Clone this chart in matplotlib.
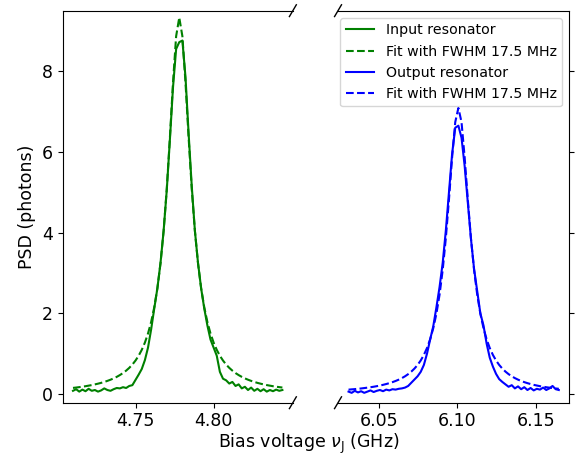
import numpy as np
import matplotlib
matplotlib.use("Agg")
import matplotlib.pyplot as plt

# ---- data ----
# left panel: input resonator, grid 4.710 .. 4.844 GHz (2 MHz steps)
x_in_start, x_in_stop = 4.710, 4.844
psd_in = [0.08, 0.12, 0.06, 0.11, 0.07, 0.13, 0.08, 0.10, 0.06, 0.09,
          0.14, 0.10, 0.08, 0.12, 0.15, 0.14, 0.17, 0.15, 0.20, 0.22,
          0.35, 0.48, 0.62, 0.84, 1.15, 1.60, 2.12, 2.62, 3.25, 4.05,
          5.05, 6.30, 7.60, 8.55, 8.72, 8.76, 7.85, 6.45, 5.15, 4.05,
          3.25, 2.62, 2.12, 1.70, 1.35, 1.15, 0.95, 0.55, 0.38, 0.34,
          0.26, 0.30, 0.20, 0.24, 0.14, 0.18, 0.10, 0.16, 0.08, 0.13,
          0.07, 0.12, 0.06, 0.10, 0.07, 0.11, 0.08, 0.10]
fit_in = [0.152, 0.161, 0.171, 0.182, 0.194, 0.208, 0.222, 0.239, 0.257, 0.277,
          0.300, 0.326, 0.355, 0.388, 0.426, 0.470, 0.520, 0.580, 0.649, 0.731,
          0.830, 0.949, 1.095, 1.274, 1.500, 1.784, 2.150, 2.621, 3.240, 4.046,
          5.081, 6.347, 7.717, 8.867, 9.330, 8.867, 7.717, 6.347, 5.081, 4.046,
          3.240, 2.621, 2.150, 1.784, 1.500, 1.274, 1.095, 0.949, 0.830, 0.731,
          0.649, 0.580, 0.520, 0.470, 0.426, 0.388, 0.355, 0.326, 0.300, 0.277,
          0.257, 0.239, 0.222, 0.208, 0.194, 0.182, 0.171, 0.161]

# right panel: output resonator, grid 6.0306 .. 6.1646 GHz (2 MHz steps)
x_out_start, x_out_stop = 6.0306, 6.1646
psd_out = [0.06, 0.03, 0.08, 0.04, 0.07, 0.03, 0.06, 0.09, 0.05, 0.08,
           0.10, 0.07, 0.11, 0.09, 0.12, 0.11, 0.13, 0.14, 0.16, 0.20,
           0.28, 0.36, 0.44, 0.55, 0.72, 1.00, 1.35, 1.68, 2.15, 2.65,
           3.25, 4.05, 5.00, 5.95, 6.60, 6.65, 6.35, 5.65, 4.75, 3.85,
           3.10, 2.55, 2.00, 1.70, 1.25, 0.90, 0.68, 0.50, 0.37, 0.30,
           0.24, 0.18, 0.22, 0.14, 0.19, 0.12, 0.17, 0.10, 0.15, 0.09,
           0.13, 0.11, 0.16, 0.10, 0.14, 0.20, 0.12, 0.10]
fit_out = [0.109, 0.116, 0.122, 0.130, 0.138, 0.148, 0.158, 0.169, 0.181, 0.195,
           0.211, 0.228, 0.248, 0.270, 0.295, 0.324, 0.357, 0.395, 0.440, 0.493,
           0.556, 0.631, 0.721, 0.832, 0.969, 1.140, 1.356, 1.634, 1.992, 2.462,
           3.075, 3.862, 4.823, 5.864, 6.738, 7.090, 6.738, 5.864, 4.823, 3.862,
           3.075, 2.462, 1.992, 1.634, 1.356, 1.140, 0.969, 0.832, 0.721, 0.631,
           0.556, 0.493, 0.440, 0.395, 0.357, 0.324, 0.295, 0.270, 0.248, 0.228,
           0.211, 0.195, 0.181, 0.169, 0.158, 0.148, 0.138, 0.130]

labels = ["Input resonator", "Fit with FWHM 17.5 MHz",
          "Output resonator", "Fit with FWHM 17.5 MHz"]
yticks = [0, 2, 4, 6, 8]
xticks_in = [4.75, 4.80]
xticks_out = [6.05, 6.10, 6.15]

x_in = np.linspace(x_in_start, x_in_stop, len(psd_in))
x_out = np.linspace(x_out_start, x_out_stop, len(psd_out))

FS = 12.5
fig = plt.figure(figsize=(5.79, 4.58), dpi=100)
ax1 = fig.add_axes([0.108, 0.1207, 0.3978, 0.856])
ax2 = fig.add_axes([0.5838, 0.1207, 0.3995, 0.856], sharey=ax1)

l1, = ax1.plot(x_in, psd_in, color="green", lw=1.5, label=labels[0])
l2, = ax1.plot(x_in, fit_in, color="green", lw=1.5, ls="--", label=labels[1])
l3, = ax2.plot(x_out, psd_out, color="blue", lw=1.5, label=labels[2])
l4, = ax2.plot(x_out, fit_out, color="blue", lw=1.5, ls="--", label=labels[3])

ax1.set_ylim(-0.215, 9.5)
ax1.set_yticks(yticks)
ax1.set_xticks(xticks_in)
ax2.set_xticks(xticks_out)

ax1.spines["right"].set_visible(False)
ax2.spines["left"].set_visible(False)
ax1.yaxis.tick_left()
ax2.yaxis.tick_right()
ax2.tick_params(labelright=False, labelleft=False)
for ax in (ax1, ax2):
    ax.tick_params(labelsize=FS)

# break marks
d = 0.015
kw = dict(transform=ax1.transAxes, color="k", clip_on=False, lw=1)
ax1.plot((1 - d, 1 + d), (-d * 1.0, d * 1.0), **kw)
ax1.plot((1 - d, 1 + d), (1 - d, 1 + d), **kw)
kw.update(transform=ax2.transAxes)
ax2.plot((-d, d), (-d, d), **kw)
ax2.plot((-d, d), (1 - d, 1 + d), **kw)

ax1.set_ylabel("PSD (photons)", fontsize=FS)
fig.text(0.534, 0.022, r"Bias voltage $\nu_\mathrm{J}$ (GHz)", ha="center",
         va="baseline", fontsize=FS)

ax2.legend(handles=[l1, l2, l3, l4], loc="upper right", fontsize=10.2)

fig.savefig("out.png", dpi=100)
